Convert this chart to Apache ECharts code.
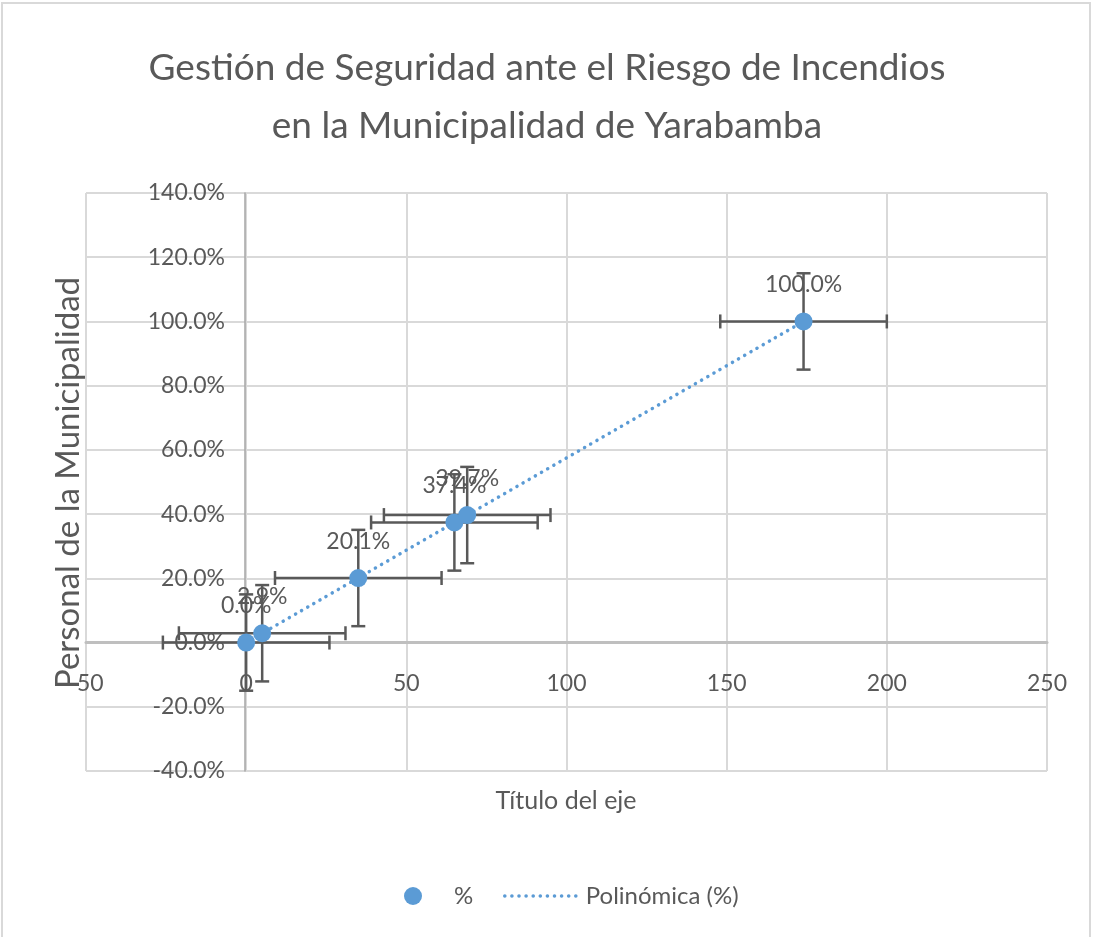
<!DOCTYPE html>
<html>
<head>
<meta charset="utf-8">
<script src="https://cdn.jsdelivr.net/npm/echarts@6/dist/echarts.min.js"></script>
<style>
  html, body { margin: 0; padding: 0; background: #fff; }
  #main { width: 1094px; height: 937px; }
</style>
</head>
<body>
<div id="main"></div>
<script>
// data
var pointX = [0, 5, 35, 65, 69, 174];
var pointY = [0.0, 2.9, 20.1, 37.4, 39.7, 100.0];
var errX = [26, 26, 26, 26, 26, 26];
var errY = [15, 15, 15, 15, 15, 15];

var xTicks = [-50, 0, 50, 100, 150, 200, 250];
var yTicks = [-40, -20, 0, 20, 40, 60, 80, 100, 120, 140];

var gray = '#595959';
var blue = '#5B9BD5';
var font = 'Lato, "Open Sans", sans-serif';

// polynomial (order 2) trend, least squares on the points, like the spreadsheet does
function polyFit2(xs, ys) {
    var s = [0, 0, 0, 0, 0], t = [0, 0, 0];
    for (var i = 0; i < xs.length; i++) {
        var p = 1;
        for (var k = 0; k < 5; k++) { s[k] += p; if (k < 3) t[k] += p * ys[i]; p *= xs[i]; }
    }
    var m = [[s[0], s[1], s[2], t[0]], [s[1], s[2], s[3], t[1]], [s[2], s[3], s[4], t[2]]];
    for (var c = 0; c < 3; c++) {
        for (var r = c + 1; r < 3; r++) {
            var f = m[r][c] / m[c][c];
            for (var q = c; q < 4; q++) m[r][q] -= f * m[c][q];
        }
    }
    var a = [0, 0, 0];
    for (var r2 = 2; r2 >= 0; r2--) {
        var v = m[r2][3];
        for (var q2 = r2 + 1; q2 < 3; q2++) v -= m[r2][q2] * a[q2];
        a[r2] = v / m[r2][r2];
    }
    return a;
}
var coef = polyFit2(pointX, pointY);
var trendData = pointX.map(function (x) {
    return [x, coef[0] + coef[1] * x + coef[2] * x * x];
});

var scatterData = pointX.map(function (x, i) { return [x, pointY[i]]; });
var errData = pointX.map(function (x, i) { return [x, pointY[i], errX[i], errY[i]]; });

var chart = echarts.init(document.getElementById('main'));

var option = {
    backgroundColor: '#fff',
    animation: false,
    title: {
        text: 'Gestión de Seguridad ante el Riesgo de Incendios\nen la Municipalidad de Yarabamba',
        left: 'center',
        top: 34,
        textStyle: {
            fontFamily: font,
            fontWeight: 'normal',
            fontSize: 37,
            lineHeight: 58,
            color: gray
        }
    },
    legend: [{
        data: ['%'],
        left: 399,
        top: 879,
        itemWidth: 18,
        itemHeight: 18,
        textStyle: { fontFamily: font, fontSize: 24, color: gray, padding: [0, 0, 0, 27] }
    }, {
        data: ['Polinómica (%)'],
        left: 498,
        top: 879,
        itemWidth: 76,
        itemHeight: 18,
        itemStyle: { opacity: 0 },
        lineStyle: { color: blue, width: 3.5, type: [0.1, 7], cap: 'round' },
        textStyle: { fontFamily: font, fontSize: 24, color: gray }
    }],
    grid: {
        left: 86,
        right: 47,
        top: 193,
        bottom: 166,
        containLabel: false,
        outerBoundsMode: 'none'
    },
    xAxis: {
        type: 'value',
        min: -50,
        max: 250,
        interval: 50,
        offset: -129,
        axisLine: { show: true, onZero: false, lineStyle: { color: '#bfbfbf', width: 3 } },
        axisTick: { show: false },
        axisLabel: {
            margin: 30,
            fontFamily: font,
            fontSize: 23,
            color: gray,
            formatter: function (v) { return xTicks.indexOf(v) >= 0 ? String(v) : ''; }
        },
        splitLine: { show: true, lineStyle: { color: '#d9d9d9', width: 2 } }
    },
    yAxis: {
        type: 'value',
        min: -40,
        max: 140,
        interval: 20,
        offset: -159,
        axisLine: { show: true, onZero: false, lineStyle: { color: '#a6a6a6', width: 1.5 } },
        axisTick: { show: false },
        axisLabel: {
            margin: 20,
            fontFamily: font,
            fontSize: 23,
            color: gray,
            formatter: function (v) { return yTicks.indexOf(v) >= 0 ? v.toFixed(1) + '%' : ''; }
        },
        splitLine: { show: true, lineStyle: { color: '#d9d9d9', width: 2 } }
    },
    graphic: [{
        type: 'rect',
        shape: { x: 2, y: 3, width: 1088, height: 960 },
        style: { fill: 'none', stroke: '#d9d9d9', lineWidth: 2 },
        silent: true
    }, {
        type: 'text',
        x: 68,
        y: 483,
        rotation: Math.PI / 2,
        style: {
            text: 'Personal de la Municipalidad',
            fontFamily: font,
            fontSize: 33,
            fill: gray,
            align: 'center',
            verticalAlign: 'middle'
        }
    }, {
        type: 'text',
        x: 566,
        y: 801,
        style: {
            text: 'Título del eje',
            fontFamily: font,
            fontSize: 25,
            fill: gray,
            align: 'center',
            verticalAlign: 'middle'
        }
    }],
    series: [{
        name: 'Polinómica (%)',
        type: 'line',
        data: trendData,
        showSymbol: false,
        symbol: 'none',
        smooth: true,
        z: 3,
        itemStyle: { color: blue },
        lineStyle: { color: blue, width: 3.5, type: [0.1, 7], cap: 'round' }
    }, {
        name: 'errores',
        type: 'custom',
        data: errData,
        z: 4,
        renderItem: function (params, api) {
            var x = api.value(0), y = api.value(1), ex = api.value(2), ey = api.value(3);
            var l = api.coord([x - ex, y]);
            var r = api.coord([x + ex, y]);
            var t = api.coord([x, y + ey]);
            var b = api.coord([x, y - ey]);
            var cap = 7;
            var st = { stroke: gray, lineWidth: 2.5 };
            return {
                type: 'group',
                children: [
                    { type: 'line', shape: { x1: l[0], y1: l[1], x2: r[0], y2: r[1] }, style: st },
                    { type: 'line', shape: { x1: l[0], y1: l[1] - cap, x2: l[0], y2: l[1] + cap }, style: st },
                    { type: 'line', shape: { x1: r[0], y1: r[1] - cap, x2: r[0], y2: r[1] + cap }, style: st },
                    { type: 'line', shape: { x1: t[0], y1: t[1], x2: b[0], y2: b[1] }, style: st },
                    { type: 'line', shape: { x1: t[0] - cap, y1: t[1], x2: t[0] + cap, y2: t[1] }, style: st },
                    { type: 'line', shape: { x1: b[0] - cap, y1: b[1], x2: b[0] + cap, y2: b[1] }, style: st }
                ]
            };
        }
    }, {
        name: '%',
        type: 'scatter',
        data: scatterData,
        symbolSize: 18,
        z: 5,
        itemStyle: { color: blue, opacity: 1 },
        label: {
            show: true,
            position: 'top',
            distance: 16,
            fontFamily: font,
            fontSize: 23,
            color: gray,
            formatter: function (p) { return p.value[1].toFixed(1) + '%'; }
        }
    }]
};

chart.setOption(option);
</script>
</body>
</html>
